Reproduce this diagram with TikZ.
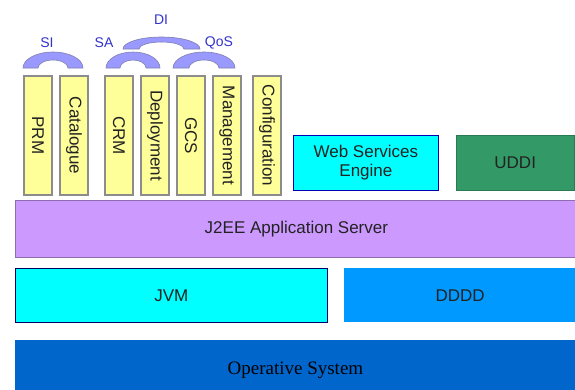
\documentclass[tikz,border=0pt]{standalone}
\usepackage{fontspec}
\setmainfont{Liberation Sans}
\newfontfamily\osface{Liberation Serif}
\usepackage{graphicx}
\usetikzlibrary{positioning,calc}

\definecolor{stripyellow}{HTML}{FFFF99}
\definecolor{stripgray}{HTML}{8C8C8C}
\definecolor{bridgeblue}{HTML}{9999FF}
\definecolor{bridgeedge}{HTML}{8080B0}
\definecolor{labelblue}{HTML}{3333CC}
\definecolor{wsecyan}{HTML}{00FFFF}
\definecolor{uddigreen}{HTML}{339966}
\definecolor{jeelilac}{HTML}{CC99FF}
\definecolor{ddddblue}{HTML}{0099FF}
\definecolor{osblue}{HTML}{0066CC}
\definecolor{inkgray}{HTML}{222222}

\begin{document}
\begin{tikzpicture}[x=1pt, y=-1pt,
	layer/.style  = {anchor=north west, inner sep=0pt, line width=0.8pt, text=inkgray,
	                 font=\fontsize{17}{19}\selectfont, align=center},
	strip/.style  = {draw=stripgray, fill=stripyellow, line width=2pt, inner sep=0pt,
	                 minimum width=28pt, minimum height=119pt, text=inkgray,
	                 font=\fontsize{17}{19}\selectfont},
	bridge/.style = {draw=bridgeedge, fill=bridgeblue, line width=0.6pt},
	tag/.style    = {text=labelblue, inner sep=0pt, font=\fontsize{14}{16}\selectfont}]

	\useasboundingbox[fill=white] (0,0) rectangle (575,389);

	% layers, bottom up
	\node[layer, fill=osblue, minimum width=560pt, minimum height=60pt, text=black,
	      font=\osface\fontsize{19}{21}\selectfont] (os) at (15,340)
	      {\raisebox{-12pt}{Operative System}};
	\node[layer, draw=blue!40!black, fill=wsecyan, minimum width=312pt, minimum height=54pt] (jvm) at (15,268) {JVM};
	\node[layer, fill=ddddblue, minimum width=232pt, minimum height=54pt, right=16pt of jvm] (dddd) {DDDD};
	\node[layer, draw=jeelilac!70!black, fill=jeelilac, minimum width=562pt, minimum height=57pt] (jee) at (15,200) {J2EE Application Server};

	% services on the application server
	\node[layer, draw=blue!70!black, fill=wsecyan, minimum width=145pt, minimum height=55pt] (wse) at (293,135) {Web Services\\Engine};
	\node[layer, draw=uddigreen!80!black, fill=uddigreen, minimum width=118pt, minimum height=55pt, right=17pt of wse] (uddi) {UDDI};

	% vertical modules
	\node[strip, anchor=north west] (prm) at (23,75) {\rotatebox{-90}{PRM}};
	\node[strip, right=6pt of prm] (cat) {\rotatebox{-90}{Catalogue}};
	\node[strip, right=15pt of cat] (crm) {\rotatebox{-90}{CRM}};
	\node[strip, right=6pt of crm] (dep) {\rotatebox{-90}{Deployment}};
	\node[strip, right=6pt of dep] (gcs) {\rotatebox{-90}{GCS}};
	\node[strip, right=6pt of gcs] (mgmt) {\rotatebox{-90}{Management}};
	\node[strip, right=10pt of mgmt] (conf) {\rotatebox{-90}{Configuration}};

	% bridges over the modules
	\foreach \cx/\rx/\ri in {53/30/15, 133/27/13, 204/31/15}
	\draw[bridge] (\cx-\rx,68) arc[start angle=180, end angle=360, x radius=\rx, y radius=16]
		-- (\cx+\ri,68) arc[start angle=0, end angle=-180, x radius=\ri, y radius=8] -- cycle;
	\draw[bridge] (123,49) arc[start angle=180, end angle=360, x radius=38.5, y radius=12]
		-- (184,49) arc[start angle=0, end angle=-180, x radius=22.5, y radius=7] -- cycle;

	\node[tag] (si)  at (47,43)  {SI};
	\node[tag] (sa)  at (104,43) {SA};
	\node[tag] (qos) at (219,43) {QoS};
	\node[tag] (di)  at (161,20) {DI};

\end{tikzpicture}
\end{document}
